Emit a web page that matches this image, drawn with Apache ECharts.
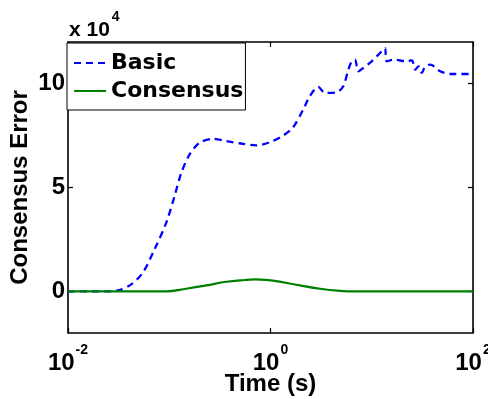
<!DOCTYPE html>
<html><head><meta charset="utf-8">
<script src="https://cdn.jsdelivr.net/npm/echarts@6/dist/echarts.min.js"></script>
<style>html,body{margin:0;padding:0;background:#fff}#c{width:488px;height:399px}</style>
</head><body><div id="c"></div>
<script>
const basicTime = [0.01, 0.0238, 0.0322, 0.0421, 0.0548, 0.0715, 0.0933, 0.1127, 0.1315, 0.1589, 0.1995, 0.2704, 0.3665, 0.5355, 0.7261, 0.984, 1.334, 1.675, 2.104, 2.449, 2.958, 3.45, 4.5, 5.23, 5.87, 6.34, 6.84, 7.37, 8.26, 10.0, 11.2, 13.0, 13.55, 14.1, 16.4, 22.2, 24.9, 26.9, 28.9, 31.2, 33.7, 37.8, 47.4, 59.6, 100];
const basicValue = [0, 0, 600, 3400, 9000, 20200, 33000, 45800, 57000, 65900, 71500, 73400, 72300, 71000, 70300, 71800, 75000, 79000, 87500, 94000, 98400, 95500, 95800, 98700, 106700, 110700, 111500, 105900, 107500, 110700, 113100, 116300, 117100, 110700, 111500, 110700, 111200, 106700, 108300, 105100, 108300, 109100, 105900, 104600, 104600];
const consTime = [0.01, 0.0933, 0.147, 0.232, 0.366, 0.557, 0.70, 0.898, 1.146, 1.95, 3.08, 4.85, 6.84, 100];
const consValue = [0, 0, 1300, 2900, 4650, 5500, 5770, 5600, 4950, 2900, 1300, 300, 0, 0];
const xTicks = [0.01, 1, 100];
const yTicks = [0, 50000, 100000];
const seriesNames = ['Basic', 'Consensus'];

const zip = (a, b) => a.map((v, i) => [v, b[i]]);
const font = 'Liberation Sans, Arial, Helvetica, sans-serif';
const legendFont = 'DejaVu Sans, sans-serif';
const chart = echarts.init(document.getElementById('c'), null, {renderer: 'canvas'});
const tickStyle = {show: true, inside: true, length: 5, lineStyle: {color: '#000', width: 1.2}};
chart.setOption({
  animation: false,
  backgroundColor: '#fff',
  grid: {left: 68, right: 15, top: 42, bottom: 66, outerBoundsMode: 'none', containLabel: false, show: true, borderColor: '#000', borderWidth: 1.6, backgroundColor: 'transparent'},
  graphic: [{type: 'text', left: 69, top: 10, style: {
    text: '{b|x 10}{s|4}',
    rich: {
      b: {fontSize: 21, fontWeight: 'bold', fontFamily: font, lineHeight: 31, verticalAlign: 'bottom'},
      s: {fontSize: 14, fontWeight: 'bold', fontFamily: font, lineHeight: 14, verticalAlign: 'top', padding: [0, 0, 0, 2]}
    }, fill: '#000'}}],
  legend: {
    left: 67, top: 43, orient: 'vertical', itemWidth: 32, itemHeight: 14, itemGap: 4,
    padding: [8, 2, 7, 6],
    backgroundColor: '#fff', borderColor: '#000', borderWidth: 1, borderRadius: 0,
    itemStyle: {opacity: 0},
    textStyle: {fontSize: 22, lineHeight: 24, fontWeight: 'bold', fontFamily: legendFont, color: '#000'},
    data: seriesNames
  },
  xAxis: [{
    type: 'log', logBase: 10, min: 0.01, max: 100,
    name: 'Time (s)', nameLocation: 'middle', nameGap: 39, nameMoveOverlap: false,
    nameTextStyle: {fontSize: 24, fontWeight: 'bold', fontFamily: font, color: '#000'},
    axisLine: {show: false, onZero: false},
    axisTick: Object.assign({customValues: xTicks}, tickStyle),
    splitLine: {show: false},
    axisLabel: {
      customValues: xTicks, margin: 10, color: '#000',
      formatter: v => '{b|10}{s|' + Math.round(Math.log10(v)) + '}',
      rich: {
        b: {fontSize: 24, fontWeight: 'bold', fontFamily: font, lineHeight: 32, verticalAlign: 'bottom'},
        s: {fontSize: 14, fontWeight: 'bold', fontFamily: font, lineHeight: 14, verticalAlign: 'top', padding: [0, 0, 0, 1]}
      }
    }
  }, {
    type: 'log', logBase: 10, min: 0.01, max: 100, position: 'top',
    axisLine: {show: false, onZero: false}, axisLabel: {show: false}, splitLine: {show: false},
    axisTick: Object.assign({customValues: xTicks}, tickStyle)
  }],
  yAxis: [{
    type: 'value', min: -20000, max: 120000,
    name: 'Consensus Error', nameLocation: 'middle', nameGap: 36, nameMoveOverlap: false,
    nameTextStyle: {fontSize: 24, fontWeight: 'bold', fontFamily: font, color: '#000'},
    axisLine: {show: false, onZero: false}, splitLine: {show: false},
    axisTick: Object.assign({customValues: yTicks}, tickStyle),
    axisLabel: {customValues: yTicks, margin: 3, color: '#000', fontSize: 24, fontWeight: 'bold', fontFamily: font, formatter: v => String(v / 10000)}
  }, {
    type: 'value', min: -20000, max: 120000, position: 'right',
    axisLine: {show: false, onZero: false}, splitLine: {show: false}, axisLabel: {show: false},
    axisTick: Object.assign({customValues: yTicks}, tickStyle)
  }],
  series: [{
    name: seriesNames[0], type: 'line', showSymbol: false, symbol: 'none',
    data: zip(basicTime, basicValue), smooth: 0.3,
    lineStyle: {color: '#0000ff', width: 2.3, type: [7, 5]}, itemStyle: {color: '#0000ff'}, z: 2
  }, {
    name: seriesNames[1], type: 'line', showSymbol: false, symbol: 'none',
    data: zip(consTime, consValue), smooth: 0.4,
    lineStyle: {color: '#008000', width: 2.2}, itemStyle: {color: '#008000'}, z: 3
  }]
});
</script></body></html>
